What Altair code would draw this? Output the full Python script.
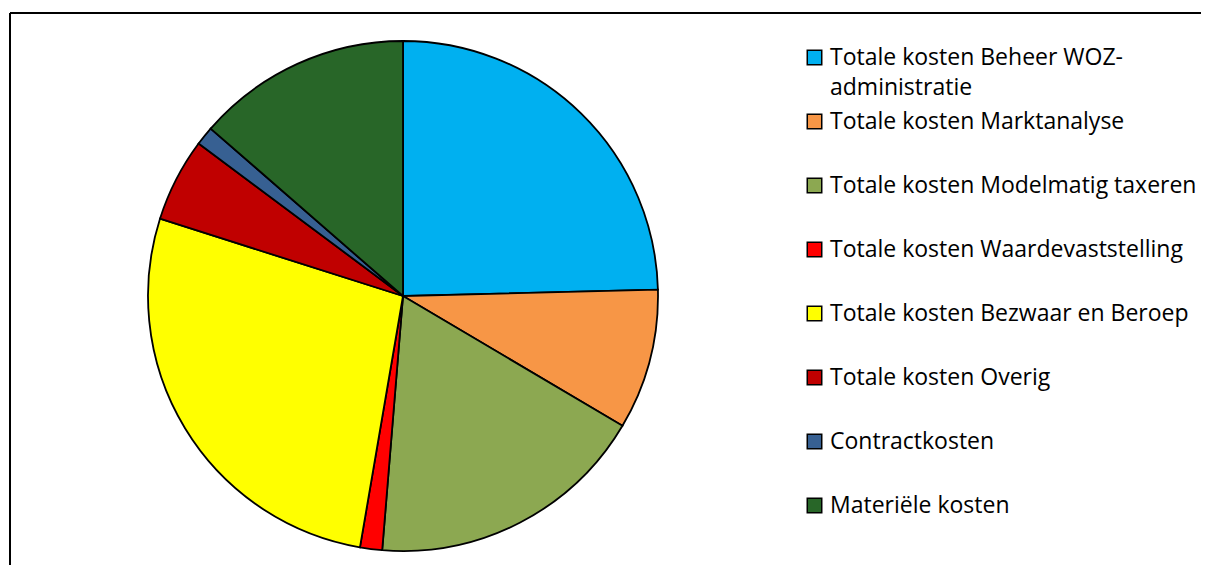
import altair as alt
import pandas as pd

categories = [
    "Totale kosten Beheer WOZ-administratie",
    "Totale kosten Marktanalyse",
    "Totale kosten Modelmatig taxeren",
    "Totale kosten Waardevaststelling",
    "Totale kosten Bezwaar en Beroep",
    "Totale kosten Overig",
    "Contractkosten",
    "Materiële kosten",
]
shares = [24.6, 8.9, 17.8, 1.4, 27.2, 5.3, 1.2, 13.6]
colors = ["#00B0F0", "#F79646", "#8CA851", "#FF0000", "#FFFF00", "#C00000", "#376092", "#286628"]

df = pd.DataFrame({"categorie": categories, "aandeel": shares, "volgorde": list(range(len(categories)))})

label_expr = (
    "datum.label == 'Totale kosten Beheer WOZ-administratie' ? "
    "['Totale kosten Beheer WOZ-', 'administratie'] : datum.label"
)

pie = (
    alt.Chart(df)
    .mark_arc(radius=255, stroke="black", strokeWidth=1.8)
    .encode(
        theta=alt.Theta("aandeel:Q", stack=True),
        order=alt.Order("volgorde:O"),
        x=alt.value(394),
        y=alt.value(284),
        color=alt.Color(
            "categorie:N",
            scale=alt.Scale(domain=categories, range=colors),
            sort=categories,
            legend=alt.Legend(
                title=None,
                orient="none",
                legendX=794,
                legendY=34,
                padding=0,
                labelExpr=label_expr,
                labelFont="Open Sans",
                labelFontSize=23,
                labelColor="black",
                labelLimit=600,
                labelOffset=4,
                symbolType="square",
                symbolSize=210,
                symbolStrokeColor="black",
                symbolStrokeWidth=1.5,
                symbolOpacity=1,
                gridAlign="all",
                rowPadding=10,
            ),
        ),
    )
)

frame_df = pd.DataFrame({"k": [0]})
top_line = alt.Chart(frame_df).mark_rule(color="black", strokeWidth=2).encode(
    x=alt.value(1), x2=alt.value(1400), y=alt.value(1)
)
left_line = alt.Chart(frame_df).mark_rule(color="black", strokeWidth=2).encode(
    x=alt.value(1), y=alt.value(1), y2=alt.value(800)
)

chart = (
    alt.layer(pie, top_line, left_line)
    .properties(
        width=1192,
        height=553,
        padding={"left": 1, "top": 4, "right": 0, "bottom": 0},
        autosize=alt.AutoSizeParams(type="none"),
    )
    .configure(background="white", style={"guide-label": {"lineHeight": 30}})
    .configure_view(stroke=None)
)

chart.save("out.html", embed_options={"renderer": "svg", "actions": False})
